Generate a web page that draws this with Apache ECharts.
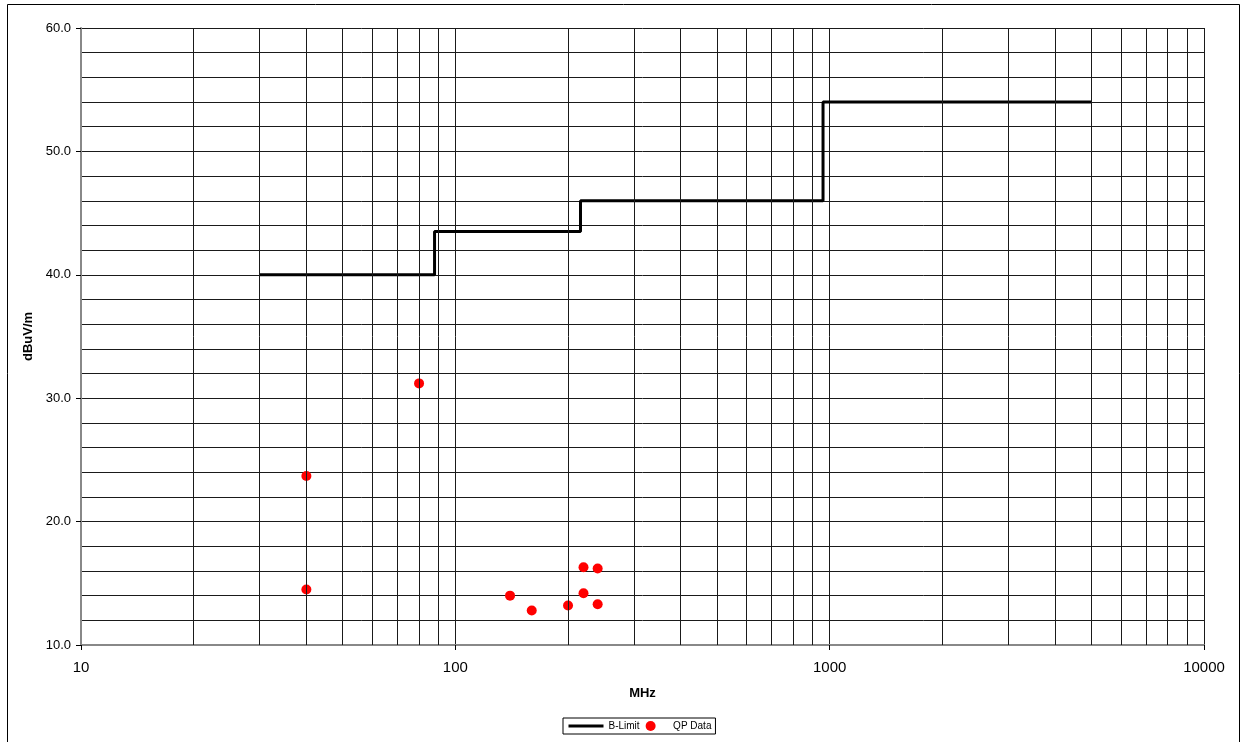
<!DOCTYPE html>
<html>
<head>
<meta charset="utf-8">
<script src="https://cdn.jsdelivr.net/npm/echarts@6/dist/echarts.min.js"></script>
<style>
html,body{margin:0;padding:0;background:#fff;}
#chart{width:1241px;height:742px;}
</style>
</head>
<body>
<div id="chart"></div>
<script>
// Limit line (B-Limit) breakpoints
var limitFreq  = [30, 88, 88, 216, 216, 960, 960, 5000];
var limitLevel = [40, 40, 43.5, 43.5, 46, 46, 54, 54];

// QP measurement data
var qpFreq  = [40, 40, 80, 140, 160, 160, 200, 220, 220, 240, 240];
var qpLevel = [23.7, 14.5, 31.2, 14.0, 12.8, 9.3, 13.2, 16.3, 14.2, 16.2, 13.3];

// Minor vertical grid positions on the log axis
var minorFreqs = [20,30,40,50,60,70,80,90,200,300,400,500,600,700,800,900,2000,3000,4000,5000,6000,7000,8000,9000];

var FONT = 'Liberation Sans, Arial, sans-serif';
var GRID = '#1a1a1a';

var chart = echarts.init(document.getElementById('chart'), null, {renderer: 'canvas'});

var limitData = limitFreq.map(function (f, i) { return [f, limitLevel[i]]; });
var qpData = qpFreq.map(function (f, i) { return [f, qpLevel[i]]; });

chart.setOption({
  animation: false,
  backgroundColor: '#fff',
  textStyle: {fontFamily: FONT, color: '#000'},
  graphic: [{
    type: 'rect',
    shape: {x: 7.5, y: 4.5, width: 1232, height: 800},
    style: {fill: 'none', stroke: '#000', lineWidth: 1},
    silent: true, z: -10
  }],
  grid: {left: 81, right: 37, top: 28, bottom: 97, containLabel: false},
  legend: {
    left: 563, top: 718,
    orient: 'horizontal',
    data: [
      {name: 'B-Limit', itemStyle: {opacity: 0, borderWidth: 0}, lineStyle: {width: 3, color: '#000'}},
      {name: 'QP Data', icon: 'circle'}
    ],
    itemWidth: 35, itemHeight: 10, itemGap: 6,
    padding: [3, 4, 3, 4],
    borderColor: '#000', borderWidth: 1,
    textStyle: {fontFamily: FONT, fontSize: 10, color: '#000'}
  },
  xAxis: {
    type: 'log', logBase: 10, min: 10, max: 10000,
    name: 'MHz', nameLocation: 'middle', nameGap: 42,
    nameTextStyle: {fontFamily: FONT, fontSize: 13, fontWeight: 'bold', color: '#000'},
    axisLine: {show: true, onZero: false, lineStyle: {color: '#888', width: 2}},
    axisTick: {show: true, length: 5, lineStyle: {color: '#000', width: 1}},
    axisLabel: {fontFamily: FONT, fontSize: 15, color: '#000', margin: 15,
      formatter: function (v) { return String(Math.round(v)); }},
    splitLine: {show: true, lineStyle: {color: GRID, width: 1}},
    minorTick: {show: false}, minorSplitLine: {show: false}
  },
  yAxis: {
    type: 'value', min: 10, max: 60, interval: 10,
    name: 'dBuV/m', nameLocation: 'middle', nameGap: 40, nameRotate: 90,
    nameTextStyle: {fontFamily: FONT, fontSize: 13, fontWeight: 'bold', color: '#000'},
    axisLine: {show: true, lineStyle: {color: '#888', width: 2}},
    axisTick: {show: true, length: 5, lineStyle: {color: '#000', width: 1}},
    axisLabel: {fontFamily: FONT, fontSize: 13, color: '#000', margin: 10,
      formatter: function (v) { return v.toFixed(1); }},
    splitLine: {show: true, lineStyle: {color: GRID, width: 1}},
    minorTick: {show: false, splitNumber: 5},
    minorSplitLine: {show: true, lineStyle: {color: GRID, width: 1}}
  },
  series: [
    {
      name: 'grid-minor', type: 'line', data: [], silent: true, z: 1,
      markLine: {
        silent: true, symbol: ['none', 'none'], animation: false,
        label: {show: false},
        lineStyle: {color: GRID, width: 1, type: 'solid'},
        emphasis: {disabled: true},
        data: minorFreqs.map(function (f) { return {xAxis: f}; })
      }
    },
    {
      name: 'B-Limit', type: 'line', data: limitData,
      showSymbol: false, symbol: 'none', z: 3,
      lineStyle: {color: '#000', width: 3},
      itemStyle: {color: '#000'}
    },
    {
      name: 'QP Data', type: 'scatter', data: qpData,
      symbol: 'circle', symbolSize: 10, z: 4, clip: true,
      itemStyle: {color: '#ff0000', opacity: 1}
    }
  ]
});
</script>
</body>
</html>
